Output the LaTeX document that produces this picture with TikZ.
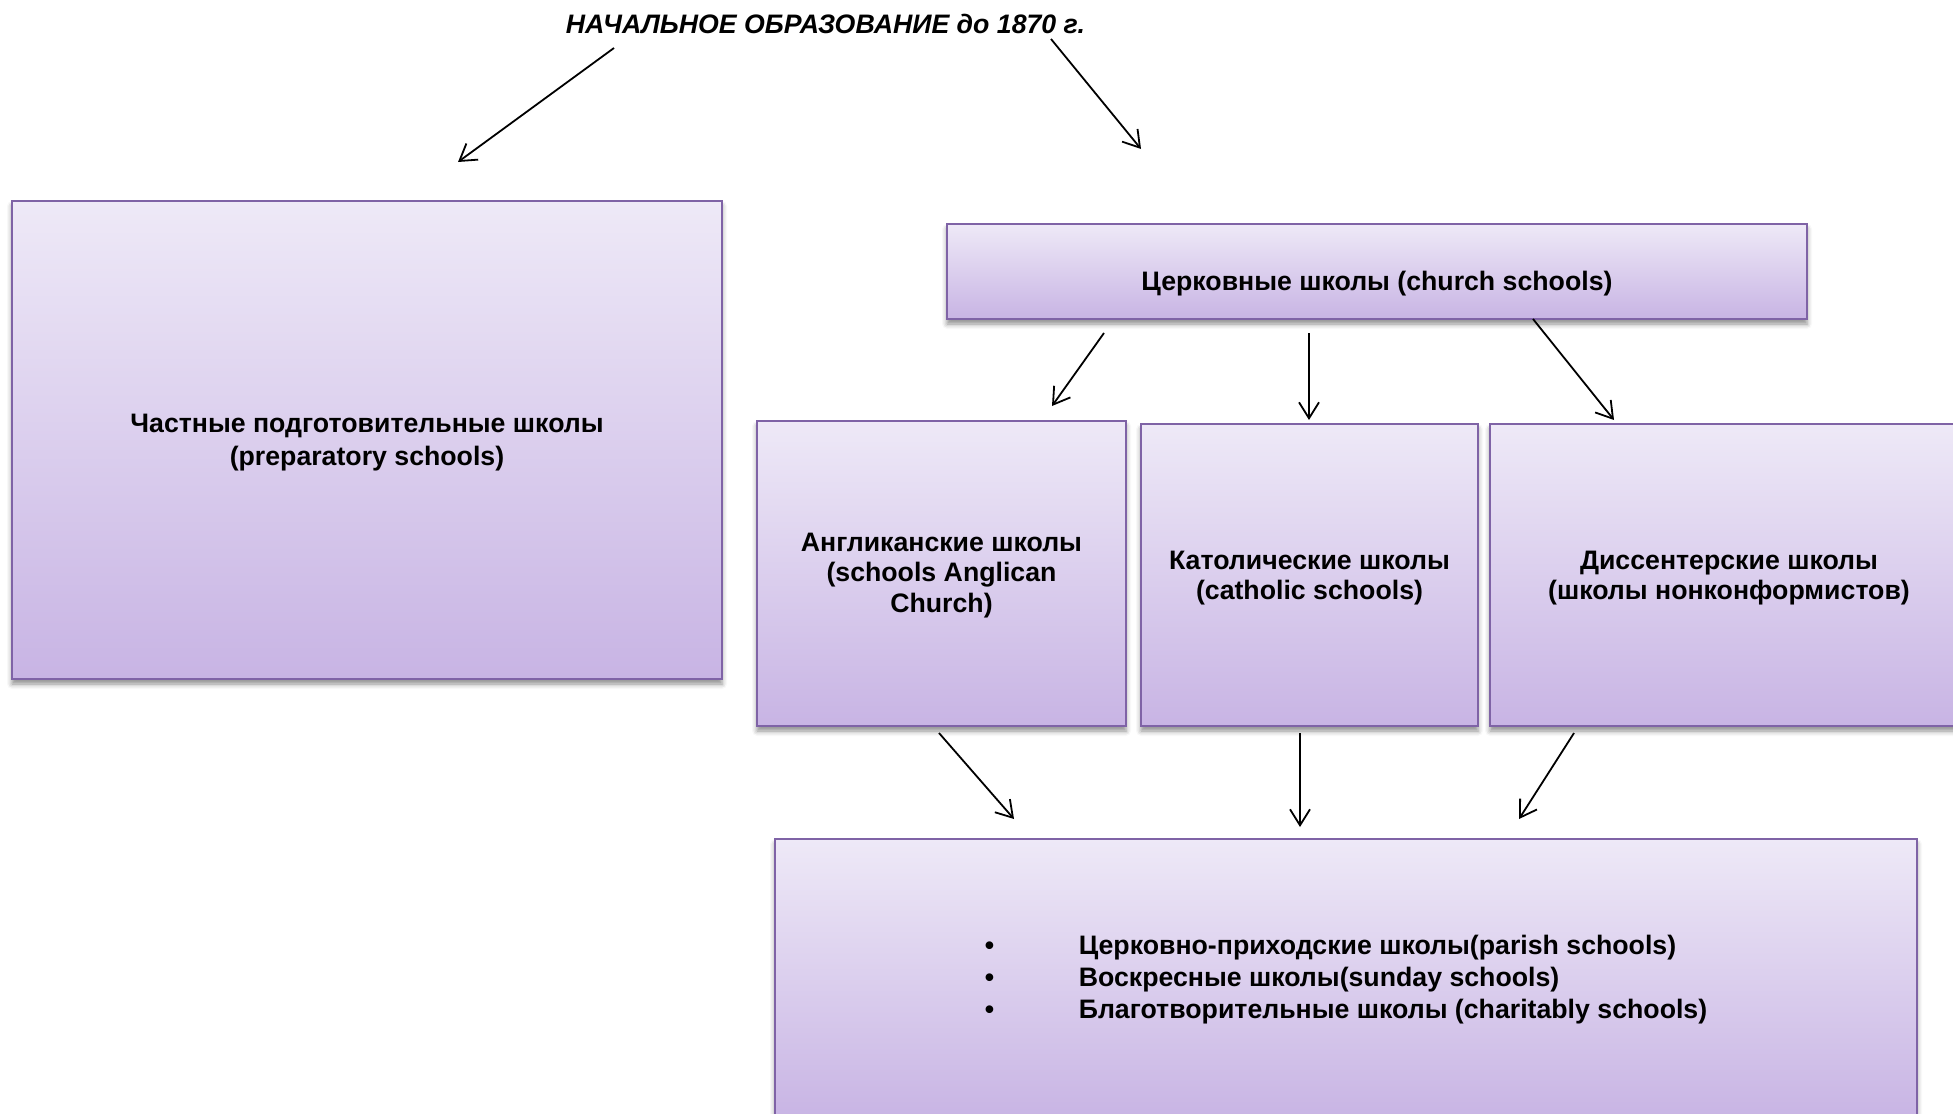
\documentclass[tikz,border=0pt]{standalone}
\usepackage{fontspec}
\setmainfont{Liberation Sans}
\usetikzlibrary{arrows.meta,shadows.blur}
\definecolor{boxtop}{HTML}{EEE9F7}
\definecolor{boxbot}{HTML}{C8B4E4}
\definecolor{boxline}{HTML}{7F63A6}
\begin{document}
\begin{tikzpicture}[x=0.5pt,y=-0.5pt,
  box/.style={draw=boxline, line width=1.2pt, top color=boxtop, bottom color=boxbot,
    inner sep=0pt, align=center, font=\bfseries\fontsize{13.35}{16.2}\selectfont,
    blur shadow={shadow xshift=0pt, shadow yshift=-2.5pt, shadow blur radius=2.5pt, shadow opacity=45}},
  midbox/.style={box, font=\bfseries\fontsize{13.35}{15.2}\selectfont},
  arr/.style={-{Straight Barb[length=8pt,width=10pt]}, line width=0.9pt},
]
\useasboundingbox (0,0) rectangle (1953,1113);
\clip (0,0) rectangle (1953,1113);

\node[font=\bfseries\itshape\fontsize{13.35}{16}\selectfont, inner sep=0pt] (title) at (825.5,24) {НАЧАЛЬНОЕ ОБРАЗОВАНИЕ до 1870 г.};

\node[box, minimum width=355pt, minimum height=239pt] (prep) at (367,440)
  {\raisebox{-1.2pt}[\height][\depth]{\begin{tabular}{@{}c@{}}Частные подготовительные школы\\(preparatory schools)\end{tabular}}};
\node[box, minimum width=430pt, minimum height=47.5pt] (church) at (1377,271.5)
  {\raisebox{-9.5pt}[0pt][0pt]{Церковные школы (church schools)}};

\node[midbox, minimum width=184.5pt, minimum height=152.5pt] (angl) at (941.5,573.5)
  {\raisebox{-1.2pt}[\height][\depth]{\begin{tabular}{@{}c@{}}Англиканские школы\\(schools Anglican\\Church)\end{tabular}}};
\node[midbox, minimum width=168.5pt, minimum height=151pt] (cath) at (1309.5,575)
  {\raisebox{-1.8pt}[\height][\depth]{\begin{tabular}{@{}c@{}}Католические школы\\(catholic schools)\end{tabular}}};
\node[midbox, minimum width=239pt, minimum height=151pt] (diss) at (1729,575)
  {\raisebox{-1.8pt}[\height][\depth]{\begin{tabular}{@{}c@{}}Диссентерские школы\\(школы нонконформистов)\end{tabular}}};

\node[box, align=left, minimum width=571pt, minimum height=140.5pt] (kinds) at (1346,979.5)
  {\makebox[47pt][l]{•}Церковно-приходские школы(parish schools)\\
   \makebox[47pt][l]{•}Воскресные школы(sunday schools)\\
   \makebox[47pt][l]{•}Благотворительные школы (charitably schools)};

\coordinate (a1) at (614,48);   \coordinate (b1) at (458,162);
\coordinate (a2) at (1051,39);  \coordinate (b2) at (1141,149);
\coordinate (a3) at (1104,333); \coordinate (b3) at (1052,406);
\coordinate (a4) at (1309,333); \coordinate (b4) at (1309,420);
\coordinate (a5) at (1533,319); \coordinate (b5) at (1614,420);
\coordinate (a6) at (939,733);  \coordinate (b6) at (1014,819);
\coordinate (a7) at (1300,733); \coordinate (b7) at (1300,827);
\coordinate (a8) at (1574,733); \coordinate (b8) at (1519,819);

\draw[arr] (a1) -- (b1);
\draw[arr] (a2) -- (b2);
\draw[arr] (a3) -- (b3);
\draw[arr] (a4) -- (b4);
\draw[arr] (a5) -- (b5);
\draw[arr] (a6) -- (b6);
\draw[arr] (a7) -- (b7);
\draw[arr] (a8) -- (b8);
\end{tikzpicture}
\end{document}
